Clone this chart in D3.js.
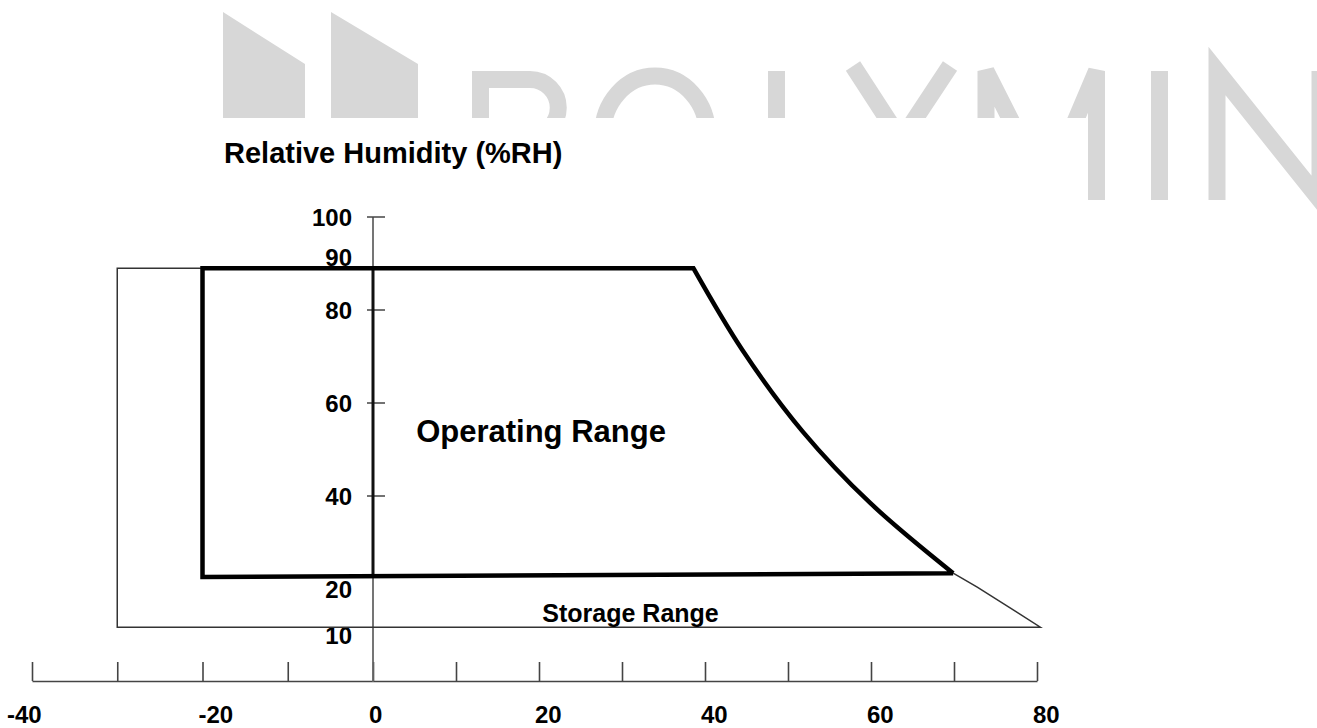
<!DOCTYPE html>
<html>
<head>
<meta charset="utf-8">
<script src="https://cdn.jsdelivr.net/npm/d3@7"></script>
<style>
  body { margin: 0; background: #fff; }
  svg { display: block; font-family: "Liberation Sans", Arial, sans-serif; }
</style>
</head>
<body>
<svg width="1317" height="728"></svg>
<script>
// temperature axis (deg C)
const xTickValues = [-40, -30, -20, -10, 0, 10, 20, 30, 40, 50, 60, 70, 80];
const xLabelValues = [-40, -20, 0, 20, 40, 60, 80];
// humidity axis (%RH)
const yTickValues = [100, 80, 60, 40];
const yLabelValues = [100, 90, 80, 60, 40, 20, 10];

// operating range
const opBoxTemp = [69.9, -20, -20, 38.6];
const opBoxRH = [23.4, 22.6, 89, 89];
const opEdgeTemp = [38.6, 44.5, 51.8, 59.9, 69.9];
const opEdgeRH = [89, 71.4, 53.8, 38.5, 23.4];
// storage range outline (open path, joins the operating outline)
const stTemp = [-20, -30, -30, 80.4, 72.8, 69.9];
const stRH = [89, 89, 11.8, 11.8, 20.4, 23.4];

const svg = d3.select("svg");

// watermark behind the chart
const wm = svg.append("g").attr("fill", "none").attr("stroke", "#d7d7d7").attr("stroke-width", 17);
wm.append("path").attr("stroke", "none").attr("fill", "#d7d7d7")
  .attr("d", "M223,12 L305,64 L305,200 L223,200 Z M331,12 L418,64 L418,200 L331,200 Z");
wm.append("path").attr("d", "M480.5,200 V79.5 H530 A28 28 0 0 1 530,136 H480.5"); // P
wm.append("ellipse").attr("cx", 655).attr("cy", 135).attr("rx", 52.5).attr("ry", 59); // O
wm.append("path").attr("d", "M776.5,71 V191.5 H840"); // L
wm.append("path").attr("d", "M853,66 L901,140 M950,66 L901,140 V200"); // Y
wm.append("path").attr("stroke-linejoin", "bevel")
  .attr("d", "M986,200 V71 L1046,190 L1096.5,71 V200"); // M
wm.append("path").attr("d", "M1159.5,71 V200"); // I
wm.append("path").attr("d", "M1217,200 V71 L1320,200 V71"); // N
svg.append("rect").attr("x", 0).attr("y", 118).attr("width", 1087).attr("height", 610).attr("fill", "#fff");

const x = d3.scaleLinear().domain([-40, 0, 80]).range([32, 373, 1037]);
const y = d3.scaleLinear().domain([0, 100]).range([682, 217]);
const axisY = 681;

// x axis with upward ticks
svg.append("g")
  .attr("transform", `translate(0,${axisY})`)
  .call(d3.axisBottom(x).tickValues(xTickValues).tickSize(-19).tickSizeOuter(0).tickFormat(""))
  .call(g => g.selectAll("path, line").attr("stroke", "#444").attr("stroke-width", 1.6));

svg.append("g").selectAll("text")
  .data(xLabelValues)
  .join("text")
  .attr("x", d => d === -40 ? 7 : x(d) - 4)
  .attr("y", 723)
  .attr("font-size", 24)
  .attr("font-weight", "bold")
  .text(d => d);

// y axis
const x0 = x(0);
svg.append("line")
  .attr("x1", x0).attr("x2", x0)
  .attr("y1", y(100)).attr("y2", axisY + 1)
  .attr("stroke", "#666").attr("stroke-width", 1.8);
svg.append("g").selectAll("line")
  .data(yTickValues)
  .join("line")
  .attr("x1", x0 - 6).attr("x2", x0 + 12)
  .attr("y1", d => y(d)).attr("y2", d => y(d))
  .attr("stroke", "#444").attr("stroke-width", 1.5);
svg.append("g").selectAll("text")
  .data(yLabelValues)
  .join("text")
  .attr("x", x0 - 21)
  .attr("y", d => y(d) + (d === 90 ? -6 : 0))
  .attr("dy", "0.36em")
  .attr("text-anchor", "end")
  .attr("font-size", 24)
  .attr("font-weight", "bold")
  .text(d => d);

const line = d3.line().x(d => x(d[0])).y(d => y(d[1]));
const curve = d3.line().x(d => x(d[0])).y(d => y(d[1])).curve(d3.curveCatmullRom.alpha(0.5));

// storage range, thin
svg.append("path")
  .attr("d", line(d3.zip(stTemp, stRH)))
  .attr("fill", "none").attr("stroke", "#333").attr("stroke-width", 1.5);

// axis segment inside operating range is drawn heavier
svg.append("line")
  .attr("x1", x0).attr("x2", x0)
  .attr("y1", y(89)).attr("y2", y(22.9))
  .attr("stroke", "#111").attr("stroke-width", 3);

// operating range, thick: straight sides then the curved hot edge
svg.append("path")
  .attr("d", line(d3.zip(opBoxTemp, opBoxRH)) + curve(d3.zip(opEdgeTemp, opEdgeRH)).replace(/^M[^C]*/, ""))
  .attr("fill", "none").attr("stroke", "#000").attr("stroke-width", 4.5)
  .attr("stroke-linejoin", "miter");

svg.append("text")
  .attr("x", x(5.2)).attr("y", 442)
  .attr("font-size", 31).attr("font-weight", "bold")
  .text("Operating Range");

svg.append("text")
  .attr("x", x(20.4)).attr("y", 622)
  .attr("font-size", 25).attr("font-weight", "bold")
  .text("Storage Range");

svg.append("text")
  .attr("x", 224).attr("y", 163)
  .attr("font-size", 29).attr("font-weight", "bold")
  .text("Relative Humidity (%RH)");
</script>
</body>
</html>
